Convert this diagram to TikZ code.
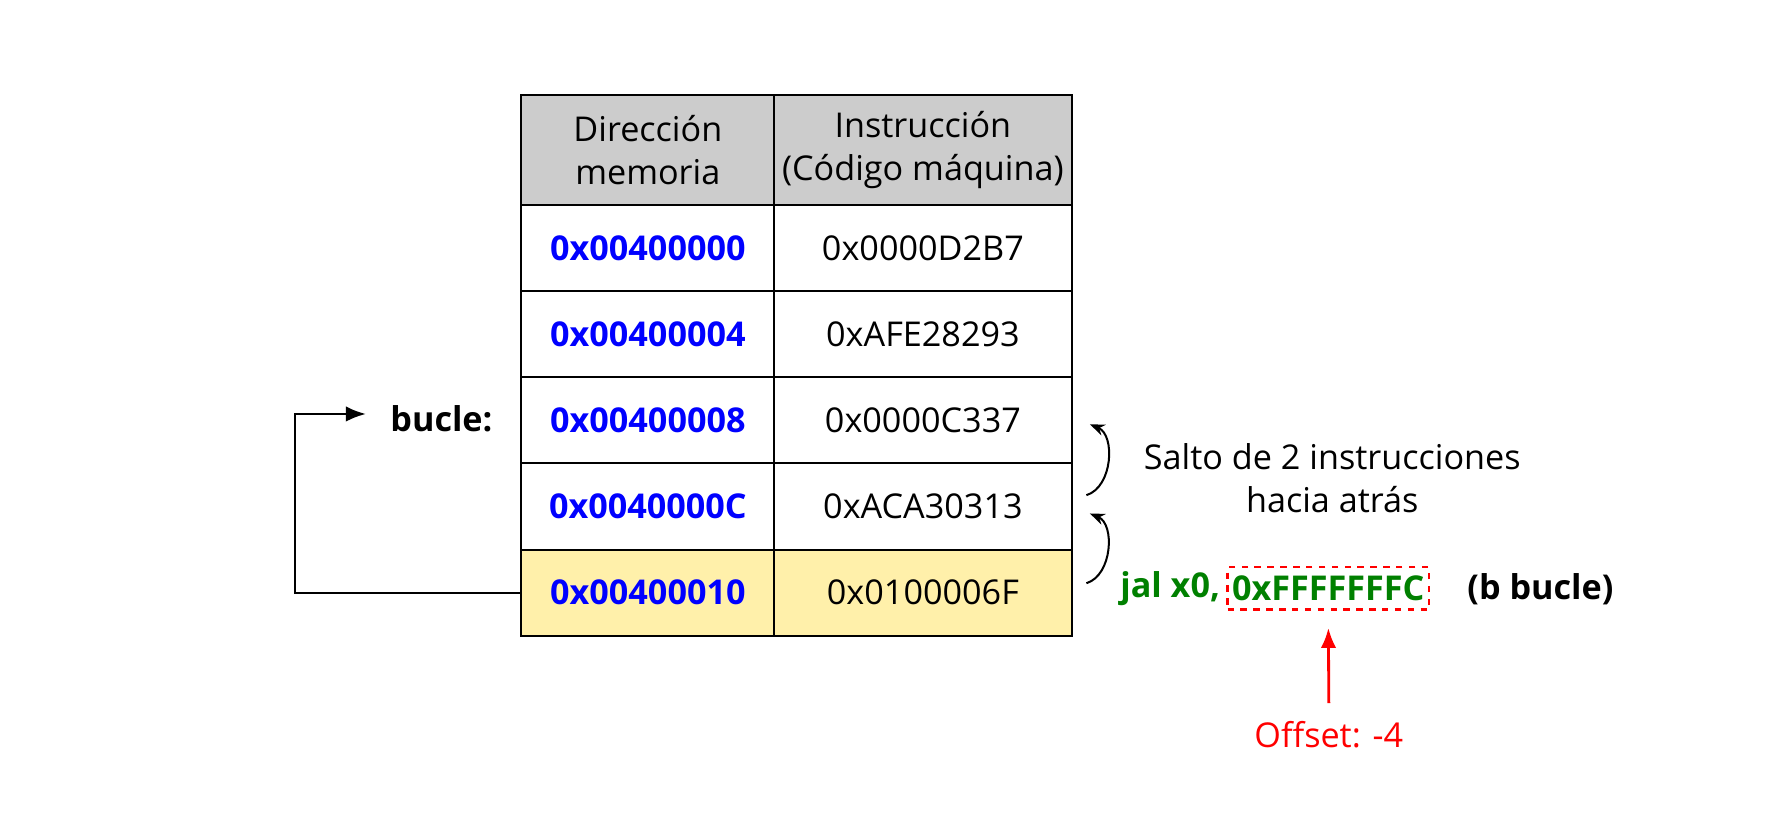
\documentclass[tikz,border=0pt]{standalone}
\usepackage{fontspec}
\setmainfont{Open Sans}
\usetikzlibrary{arrows.meta}

\definecolor{dirazul}{RGB}{0,0,255}
\definecolor{jalverde}{RGB}{0,128,0}
\definecolor{cabgris}{RGB}{204,204,204}
\definecolor{resalte}{RGB}{255,240,170}

\def\tam{\fontsize{8.5}{10.8}\selectfont}

\tikzset{
	celda/.style={draw,line width=0.5pt,inner sep=0pt,minimum height=0.754cm},
	dircelda/.style={celda,minimum width=2.21cm,text=dirazul,font=\tam\bfseries},
	inscelda/.style={celda,minimum width=2.60cm},
	cabecera/.style={celda,fill=cabgris,minimum height=0.96cm,align=center},
}

\def\fila#1#2#3#4#5{
	\node[dircelda,fill=#5] (d#1) at (566.5,#2) {#3};
	\node[inscelda,fill=#5] (i#1) at (807,#2) {#4};
}

\begin{document}
\begin{tikzpicture}[x=0.01cm,y=-0.01cm,>={Latex[length=1.75mm,width=1.35mm]},font=\tam]
\useasboundingbox (0,0) rectangle (1567,718);
% tabla
\node[cabecera,minimum width=2.21cm] (h1) at (566.5,131) {Dirección\\memoria};
\node[cabecera,minimum width=2.60cm] (h2) at (807,131) {Instrucción\\(Código máquina)};
\fila{1}{216.7}{0x00400000}{0x0000D2B7}{white}
\fila{2}{292.1}{0x00400004}{0xAFE28293}{white}
\fila{3}{367.5}{0x00400008}{0x0000C337}{white}
\fila{4}{442.9}{0x0040000C}{0xACA30313}{white}
\fila{5}{518.3}{0x00400010}{0x0100006F}{resalte}

% etiqueta y salto
\node[font=\tam\bfseries] (bucle) at (386,366) {bucle:};
\coordinate (esq) at (258,362);
\coordinate (punta) at (320,362);
\draw[->,line width=0.6pt] (d5.west) -| (esq) -- (punta);

% saltos curvos
\coordinate (s1) at (950,433);
\coordinate (t1) at (953,371);
\coordinate (s2) at (950,510);
\coordinate (t2) at (953,449);
\draw[-{Stealth[length=1.3mm,width=1mm]},line width=0.5pt] (s1) to[bend right=70] (t1);
\draw[-{Stealth[length=1.3mm,width=1mm]},line width=0.5pt] (s2) to[bend right=70] (t2);
\node[align=center] (salto) at (1165,418) {Salto de 2 instrucciones\\hacia atrás};

% instruccion
\node[text=jalverde,font=\tam\bfseries,anchor=east,inner sep=1pt] (jal) at (1071,515) {jal x0,};
\node[draw=red,dash pattern=on 1.6pt off 1.6pt,line width=0.6pt,text=jalverde,font=\tam\bfseries,
	minimum width=1.76cm,minimum height=0.37cm,inner sep=0pt] (imm) at (1161.5,514.5) {0xFFFFFFFC};
\node[font=\tam\bfseries] (b) at (1347,515) {(b bucle)};
\node[text=red] (off) at (1162,642) {Offset: -4};
\draw[->,red,line width=0.7pt,shorten >=0.15cm,shorten <=0.03cm] (off.north) -- (imm.south);
\end{tikzpicture}
\end{document}
